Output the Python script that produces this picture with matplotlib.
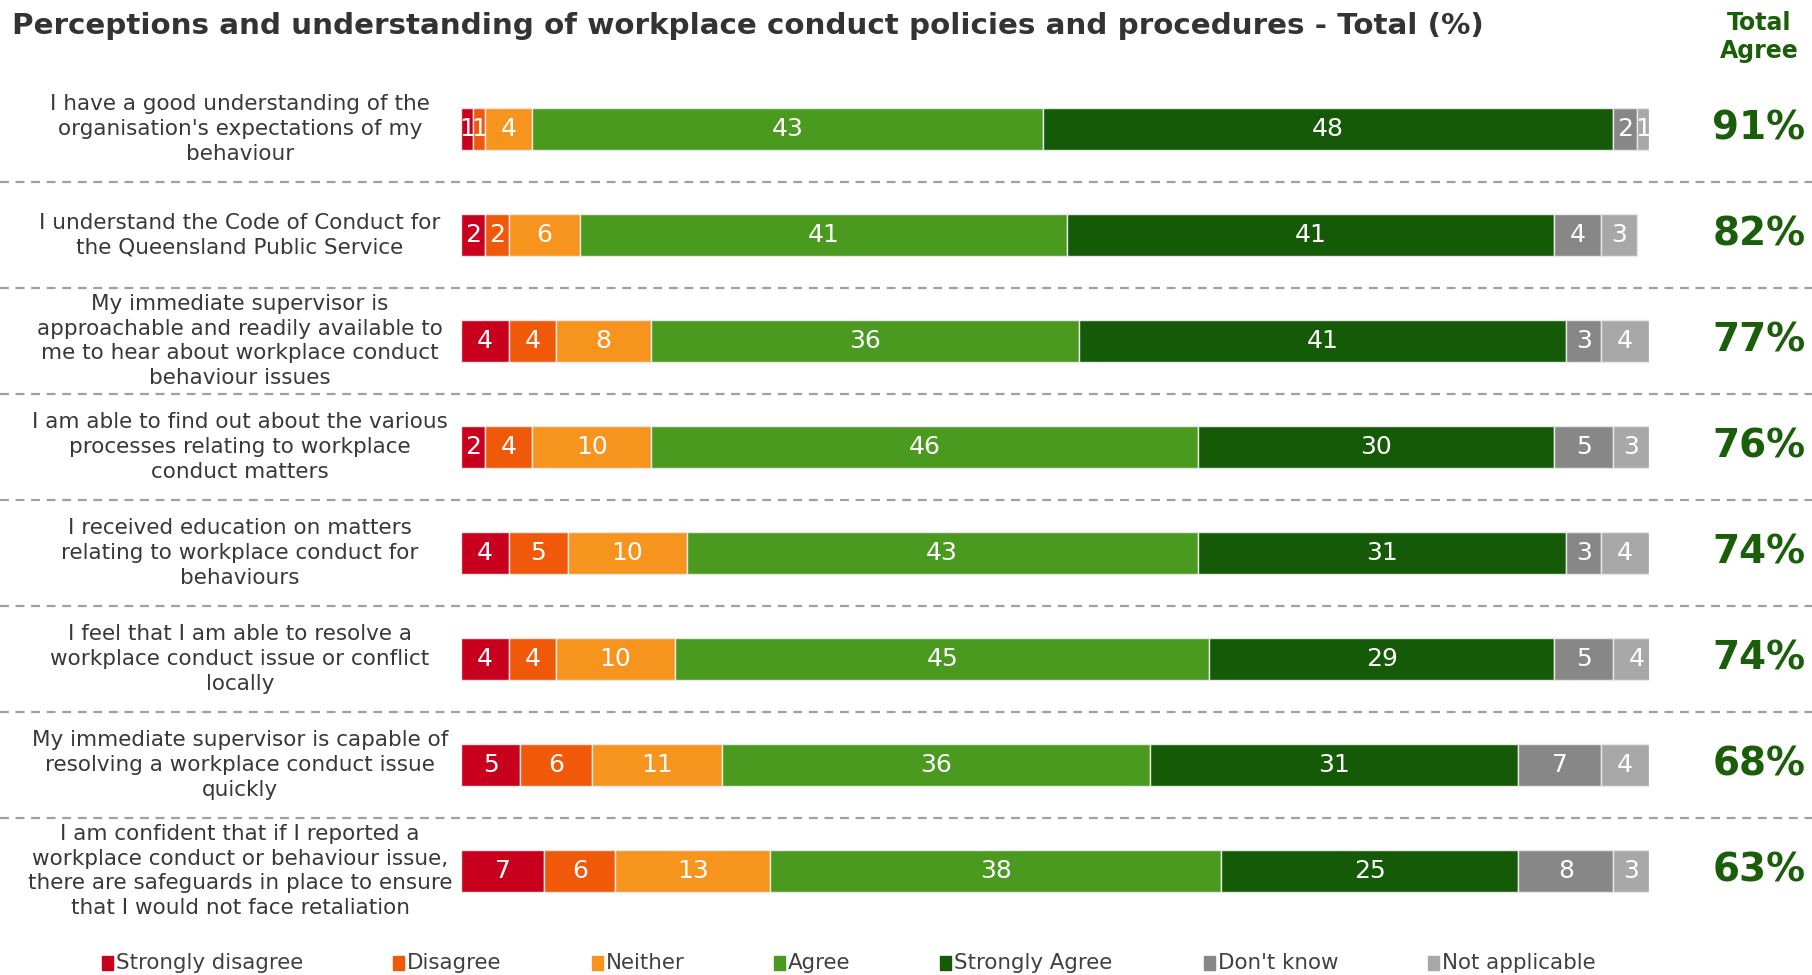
import numpy as np
import matplotlib.pyplot as plt
from matplotlib.lines import Line2D
from matplotlib.transforms import blended_transform_factory

plt.rcParams['font.family'] = ['DejaVu Sans']

# Survey statements (top to bottom)
statements = [
    "I have a good understanding of the\norganisation's expectations of my\nbehaviour",
    "I understand the Code of Conduct for\nthe Queensland Public Service",
    "My immediate supervisor is\napproachable and readily available to\nme to hear about workplace conduct\nbehaviour issues",
    "I am able to find out about the various\nprocesses relating to workplace\nconduct matters",
    "I received education on matters\nrelating to workplace conduct for\nbehaviours",
    "I feel that I am able to resolve a\nworkplace conduct issue or conflict\nlocally",
    "My immediate supervisor is capable of\nresolving a workplace conduct issue\nquickly",
    "I am confident that if I reported a\nworkplace conduct or behaviour issue,\nthere are safeguards in place to ensure\nthat I would not face retaliation",
]

categories = ['Strongly disagree', 'Disagree', 'Neither', 'Agree',
              'Strongly Agree', "Don't know", 'Not applicable']
colors = ['#C8001E', '#F0580A', '#F7941E', '#4A9A20', '#155A06', '#878787', '#A8A8A8']

strongly_disagree = [1, 2, 4, 2, 4, 4, 5, 7]
disagree          = [1, 2, 4, 4, 5, 4, 6, 6]
neither           = [4, 6, 8, 10, 10, 10, 11, 13]
agree             = [43, 41, 36, 46, 43, 45, 36, 38]
strongly_agree    = [48, 41, 41, 30, 31, 29, 31, 25]
dont_know         = [2, 4, 3, 5, 3, 5, 7, 8]
not_applicable    = [1, 3, 4, 3, 4, 4, 4, 3]

total_agree = [91, 82, 77, 76, 74, 74, 68, 63]

series = [strongly_disagree, disagree, neither, agree,
          strongly_agree, dont_know, not_applicable]

W, H = 1812, 975
fig = plt.figure(figsize=(W / 100, H / 100), dpi=100)

# bar area: x from 461px to 1649px, rows 129px..871px from top
ax = fig.add_axes([461 / W, (975 - 924) / H, 1188 / W, 848 / H])
ax.set_xlim(0, 100)
ax.set_ylim(len(statements) - 0.5, -0.5)
ax.axis('off')

y = np.arange(len(statements))
left = np.zeros(len(statements))
for name, vals, col in zip(categories, series, colors):
    vals = np.array(vals, dtype=float)
    ax.barh(y, vals, left=left, height=0.4, color=col, edgecolor='#E8E8E8',
            linewidth=1, label=name)
    for yi, l, v in zip(y, left, vals):
        ax.text(l + v / 2, yi, f'{int(v)}', ha='center', va='center',
                color='white', fontsize=18)
    left += vals

# dashed separators across the whole figure
tr = blended_transform_factory(fig.transFigure, ax.transData)
for i in range(len(statements) - 1):
    ax.add_line(Line2D([0, 1], [i + 0.5, i + 0.5], transform=tr, color='#A0A0A0',
                       linestyle=(0, (4, 3)), linewidth=1.6, clip_on=False))

# statement labels
for yi, s in zip(y, statements):
    ax.text(240 / W, yi, s, transform=tr, ha='center', va='center',
            fontsize=15.5, color='#383838', linespacing=1.3)

# total agree column
for yi, t in zip(y, total_agree):
    ax.text(1759 / W, yi, f'{t}%', transform=tr, ha='center', va='center',
            fontsize=28, fontweight='bold', color='#1A5E0A')

fig.text(1759 / W, 1 - 37 / H, 'Total\nAgree', ha='center', va='center',
         fontsize=17, fontweight='bold', color='#1A5E0A', linespacing=1.25)

fig.text(12 / W, 1 - 26 / H,
         'Perceptions and understanding of workplace conduct policies and procedures - Total (%)',
         ha='left', va='center', fontsize=21.2, fontweight='bold', color='#333333')

# legend along the bottom
leg_x = [102, 393, 592, 774, 940, 1204, 1428]
for x, name, col in zip(leg_x, categories, colors):
    fig.patches.append(plt.Rectangle((x / W, 1 - 970 / H), 11 / W, 14 / H,
                                     transform=fig.transFigure, color=col))
    fig.text((x + 14) / W, 1 - 963 / H, name, ha='left', va='center',
             fontsize=15.4, color='#404040')

fig.savefig('out.png', dpi=100)
